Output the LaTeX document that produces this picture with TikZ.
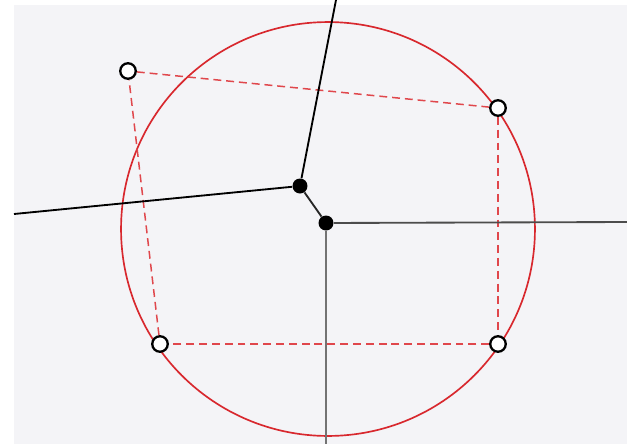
\documentclass[tikz,border=0pt]{standalone}
\definecolor{bgc}{HTML}{F4F4F7}
\definecolor{cred}{HTML}{D8282E}
\definecolor{dred}{HTML}{E0474C}
\pgfdeclarelayer{back}
\pgfdeclarelayer{lines}
\pgfsetlayers{back,lines,main}
\begin{document}
\begin{tikzpicture}[x=0.02cm,y=-0.02cm,
  openpt/.style={circle,draw=black,fill=white,line width=1.3pt,minimum size=0.31cm,inner sep=0pt},
  fullpt/.style={circle,fill=black,minimum size=0.3cm,inner sep=0pt},
  edge/.style={line width=1.05pt},
  reddash/.style={draw=dred,line width=0.85pt,dash pattern=on 4.5pt off 2.8pt}]
\useasboundingbox (0,0) rectangle (627,444);
\begin{pgfonlayer}{back}
\fill[bgc] (14,5) rectangle (627,444);
\end{pgfonlayer}
\coordinate (ctr) at (328,229);
\coordinate (eL) at (14,214);
\coordinate (eT) at (336,0);
\coordinate (eR) at (627,222);
\coordinate (eB) at (326,444);
\node[fullpt] (u) at (300,186) {};
\node[fullpt] (v) at (326,223) {};
\node[openpt] (p1) at (128,71) {};
\node[openpt] (p2) at (498,108) {};
\node[openpt] (p3) at (498,344) {};
\node[openpt] (p4) at (160,344) {};
\begin{pgfonlayer}{lines}
\draw[cred,line width=0.95pt] (ctr) circle [radius=4.14cm];
\draw[reddash] (p1) -- (p2);
\draw[reddash] (p2) -- (p3);
\draw[reddash] (p3) -- (p4);
\draw[reddash] (p4) -- (p1);
\draw[edge,black] (u) -- (eL);
\draw[edge,black] (u) -- (eT);
\draw[edge,black!85] (u) -- (v);
\draw[edge,black!70] (v) -- (eR);
\draw[edge,black!55,line width=1.2pt] (v) -- (eB);
\end{pgfonlayer}
\end{tikzpicture}
\end{document}
